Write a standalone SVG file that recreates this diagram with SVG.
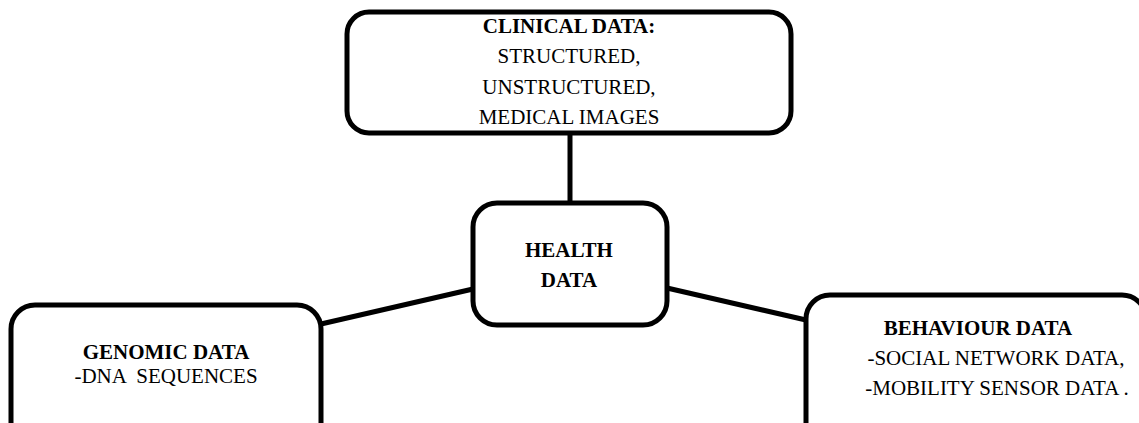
<svg xmlns="http://www.w3.org/2000/svg" width="1139" height="423" viewBox="0 0 1139 423">
  <style>
    .box { fill: #ffffff; stroke: #000000; stroke-width: 5; }
    .link { stroke: #000000; stroke-width: 5; fill: none; }
    .t { font-family: 'Liberation Serif', 'DejaVu Serif', serif; font-size: 21px; fill: #000000; text-anchor: middle; }
    .b { font-weight: bold; }
  </style>
  <rect width="1139" height="423" fill="#ffffff"/>

  <!-- connectors from the central node -->
  <g id="connectors">
    <line class="link" x1="570" y1="133" x2="570" y2="203"/>
    <line class="link" x1="473" y1="289" x2="321" y2="324"/>
    <line class="link" x1="667" y1="288" x2="806" y2="320"/>
  </g>

  <g id="clinical">
    <rect class="box" x="347" y="12" width="444" height="121" rx="22"/>
    <text class="t b" font-family="Liberation Serif, serif" x="569" y="33">CLINICAL DATA:</text>
    <text class="t" font-family="Liberation Serif, serif" x="569" y="63">STRUCTURED,</text>
    <text class="t" font-family="Liberation Serif, serif" x="569" y="94">UNSTRUCTURED,</text>
    <text class="t" font-family="Liberation Serif, serif" x="569" y="124">MEDICAL IMAGES</text>
  </g>

  <g id="health">
    <rect class="box" x="473" y="203" width="194" height="122" rx="24"/>
    <text class="t b" font-family="Liberation Serif, serif" x="569" y="257">HEALTH</text>
    <text class="t b" font-family="Liberation Serif, serif" x="569" y="287">DATA</text>
  </g>

  <g id="genomic">
    <rect class="box" x="11" y="305" width="310" height="150" rx="24"/>
    <text class="t b" font-family="Liberation Serif, serif" x="166" y="359">GENOMIC DATA</text>
    <text class="t" font-family="Liberation Serif, serif" x="166" y="383" xml:space="preserve">-DNA  SEQUENCES</text>
  </g>

  <g id="behaviour">
    <rect class="box" x="806" y="295" width="340" height="160" rx="24"/>
    <text class="t b" font-family="Liberation Serif, serif" x="978" y="335">BEHAVIOUR DATA</text>
    <text class="t" font-family="Liberation Serif, serif" x="996" y="365">-SOCIAL NETWORK DATA,</text>
    <text class="t" font-family="Liberation Serif, serif" x="997" y="395">-MOBILITY SENSOR DATA .</text>
  </g>
</svg>
